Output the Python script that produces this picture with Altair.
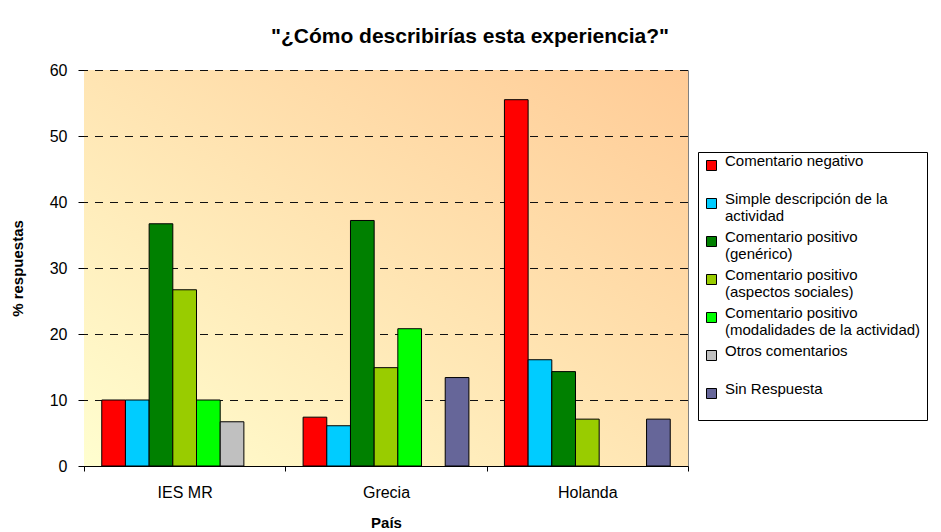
import altair as alt
import pandas as pd

paises = ["IES MR", "Grecia", "Holanda"]
series = [
    "Comentario negativo| ",
    "Simple descripción de la|actividad",
    "Comentario positivo|(genérico)",
    "Comentario positivo|(aspectos sociales)",
    "Comentario positivo|(modalidades de la actividad)",
    "Otros comentarios| ",
    "Sin Respuesta| ",
]
colores = ["#FF0000", "#00CCFF", "#008000", "#99CC00", "#00FF00", "#C0C0C0", "#666699"]

ies_mr = [10.0, 10.0, 36.7, 26.7, 10.0, 6.7, None]
grecia = [7.4, 6.1, 37.2, 14.9, 20.8, None, 13.4]
holanda = [55.5, 16.1, 14.3, 7.1, None, None, 7.1]

y_ticks = [0, 10, 20, 30, 40, 50, 60]
grid_values = [10, 20, 30, 40, 50, 60]

rows = []
for pais, vals in zip(paises, [ies_mr, grecia, holanda]):
    for s, v in zip(series, vals):
        if v is not None:
            rows.append({"pais": pais, "serie": s, "valor": v})
df = pd.DataFrame(rows)

W, H = 604, 396
FONT = "Liberation Sans"

bg = alt.Chart(alt.Data(values=[{"a": 1}])).mark_rect(
    fill=alt.Gradient(
        gradient="linear",
        stops=[alt.GradientStop(color="#FFFECF", offset=0),
               alt.GradientStop(color="#FFCB96", offset=1)],
        x1=0, y1=1, x2=1, y2=0,
    )
).encode(x=alt.value(0), x2=alt.value(W), y=alt.value(0), y2=alt.value(H))

grid = alt.Chart(pd.DataFrame({"v": grid_values})).mark_rule(
    color="#111111", strokeDash=[8, 7], strokeWidth=1, yOffset=0.5
).encode(y=alt.Y("v:Q", scale=alt.Scale(domain=[0, 60])))

bars = alt.Chart(df).mark_bar(stroke="black", strokeWidth=1).encode(
    x=alt.X("pais:N", sort=paises,
            scale=alt.Scale(domain=paises, paddingInner=0, paddingOuter=0),
            axis=alt.Axis(title="País", labelAngle=0, tickBand="extent",
                          labelFontSize=16, labelFont=FONT, labelColor="black",
                          titleFontSize=15, titleFont=FONT, titleFontWeight="bold",
                          titleColor="black", titleY=56, titleBaseline="middle",
                          domainColor="black", tickColor="black", tickSize=5,
                          labelPadding=13)),
    xOffset=alt.XOffset("serie:N", sort=series,
                        scale=alt.Scale(domain=series, paddingInner=0, paddingOuter=0.75)),
    y=alt.Y("valor:Q", scale=alt.Scale(domain=[0, 60]),
            axis=alt.Axis(values=y_ticks, title="% respuestas", grid=False,
                          labelFontSize=16, labelFont=FONT, labelColor="black",
                          titleFontSize=15, titleFont=FONT, titleFontWeight="bold",
                          titleColor="black", titleX=-67, titleY=H / 2,
                          titleBaseline="middle", titleAlign="center",
                          domainColor="black", tickColor="black", tickSize=6,
                          labelPadding=11)),
    color=alt.Color("serie:N",
                    scale=alt.Scale(domain=series, range=colores),
                    legend=alt.Legend(
                        title=None, orient="none", legendX=614, legendY=82,
                        labelExpr="split(datum.label, '|')",
                        labelFontSize=15, labelFont=FONT, labelColor="black",
                        labelLimit=400,
                        labelBaseline="alphabetic", labelOffset=6,
                        symbolType="square", symbolSize=100,
                        symbolStrokeColor="black", symbolStrokeWidth=1,
                        symbolOpacity=1,
                        strokeColor="black", fillColor="white",
                        padding=6, rowPadding=5,
                    )),
)

chart = alt.layer(bg, grid, bars).properties(
    width=W, height=H,
    autosize="none",
    padding={"left": 84, "top": 70, "right": 941 - 84 - W, "bottom": 532 - 70 - H},
    title=alt.Title(text='"¿Cómo describirías esta experiencia?"', fontSize=21,
                    font=FONT, fontWeight="bold", color="black",
                    anchor="middle", dx=84, dy=18, offset=16, baseline="alphabetic"),
).configure_view(stroke="#808080", strokeWidth=1)

chart.save("out.html", embed_options={"renderer": "svg", "actions": False})
